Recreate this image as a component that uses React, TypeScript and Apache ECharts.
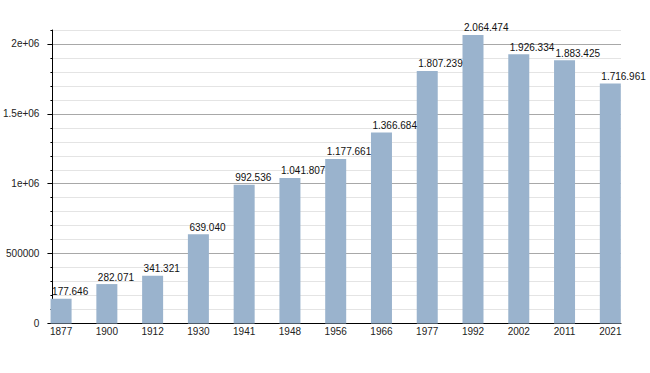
import React, { useEffect, useRef } from "react";
import * as echarts from "echarts";

const years = ["1877", "1900", "1912", "1930", "1941", "1948", "1956", "1966", "1977", "1992", "2002", "2011", "2021"];
const population = [177646, 282071, 341321, 639040, 992536, 1041807, 1177661, 1366684, 1807239, 2064474, 1926334, 1883425, 1716961];
const yTickValues = [0, 500000, 1000000, 1500000, 2000000];
const yTickLabels = ["0", "500000", "1e+06", "1.5e+06", "2e+06"];

const FONT = "'Liberation Sans', Arial, sans-serif";

function withDots(v: number): string {
  return String(v).replace(/\B(?=(\d{3})+(?!\d))/g, ".");
}

export default function App() {
  const ref = useRef<HTMLDivElement>(null);

  useEffect(() => {
    if (!ref.current) return;
    const chart = echarts.init(ref.current, undefined, { renderer: "svg" });
    const top = 30;
    const bottom = 49.5;
    const yMax = 2100000;
    chart.setOption({
      animation: false,
      backgroundColor: "#ffffff",
      grid: [
        { left: 50, right: 29, top, bottom },
        { left: 38.2, right: 16.8, top, bottom },
      ],
      xAxis: [
        {
          gridIndex: 0,
          type: "value",
          min: 0,
          max: 1,
          axisLine: { show: true, lineStyle: { color: "#000", width: 1 } },
          axisTick: { show: false },
          axisLabel: { show: false },
          splitLine: { show: false },
        },
        {
          gridIndex: 1,
          type: "category",
          data: years,
          boundaryGap: true,
          axisLine: { show: false },
          axisTick: { show: false },
          axisLabel: { color: "#222", fontFamily: FONT, fontSize: 10, margin: 3 },
        },
      ],
      yAxis: [
        {
          gridIndex: 0,
          type: "value",
          min: 0,
          max: yMax,
          interval: 100000,
          axisLine: { show: true, lineStyle: { color: "#000", width: 1 } },
          axisTick: { show: true, length: 2, inside: false, lineStyle: { color: "#000" } },
          axisLabel: { show: false },
          splitLine: {
            show: true,
            lineStyle: { color: ["#a8a8a8", "#e4e4e4", "#e4e4e4", "#e4e4e4", "#e4e4e4"], width: 1 },
          },
        },
        {
          gridIndex: 0,
          type: "value",
          position: "left",
          min: 0,
          max: yMax,
          interval: 500000,
          axisLine: { show: false },
          axisTick: { show: true, length: 5, lineStyle: { color: "#000" } },
          splitLine: { show: false },
          axisLabel: {
            show: true,
            showMaxLabel: false,
            color: "#222",
            fontFamily: FONT,
            fontSize: 10,
            margin: 13,
            formatter: (v: number) => {
              const i = yTickValues.indexOf(v);
              return i >= 0 ? yTickLabels[i] : "";
            },
          },
        },
        {
          gridIndex: 1,
          type: "value",
          min: 0,
          max: yMax,
          show: false,
        },
      ],
      series: [
        {
          type: "bar",
          xAxisIndex: 1,
          yAxisIndex: 2,
          data: population,
          barWidth: 21,
          itemStyle: { color: "#9ab3cd" },
          label: {
            show: true,
            position: [1.5, -2],
            align: "left",
            verticalAlign: "bottom",
            color: "#111",
            fontFamily: FONT,
            fontSize: 10,
            formatter: (p: any) => withDots(p.value),
          },
        },
      ],
    });
    return () => chart.dispose();
  }, []);

  return (
    <div
      ref={ref}
      style={{ position: "fixed", left: 0, top: 0, width: 650, height: 373 }}
    />
  );
}
